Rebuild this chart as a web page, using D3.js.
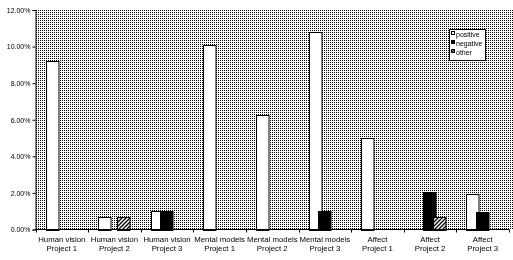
<!DOCTYPE html>
<html>
<head>
<meta charset="utf-8">
<script src="https://cdn.jsdelivr.net/npm/d3@7"></script>
<style>
  html, body { margin: 0; padding: 0; background: #ffffff; }
  svg { display: block; will-change: transform; }
  text { font-family: "Liberation Sans", Arial, sans-serif; fill: #000; }
</style>
</head>
<body>
<div id="chart"></div>
<script>
// ---- data ----
const categories = [
  ["Human vision", "Project 1"],
  ["Human vision", "Project 2"],
  ["Human vision", "Project 3"],
  ["Mental models", "Project 1"],
  ["Mental models", "Project 2"],
  ["Mental models", "Project 3"],
  ["Affect", "Project 1"],
  ["Affect", "Project 2"],
  ["Affect", "Project 3"]
];
const seriesNames = ["positive", "negative", "other"];
const positive = [9.2, 0.67, 1.0, 10.1, 6.25, 10.8, 5.0, 0, 1.92];
const negative = [0, 0, 1.0, 0, 0, 1.0, 0, 2.07, 0.96];
const other    = [0, 0.67, 0, 0, 0, 0, 0, 0.68, 0];
const yTicks = [0, 2, 4, 6, 8, 10, 12];

const W = 513, H = 260;
const pLeft = 35.5, pRight = 509, pTop = 10, pBottom = 229.5;

const svg = d3.select("#chart").append("svg")
  .attr("width", W).attr("height", H);

const defs = svg.append("defs");
// dotted plot-area background
const dots = defs.append("pattern").attr("id", "dots")
  .attr("patternUnits", "userSpaceOnUse").attr("width", 2).attr("height", 2);
dots.append("rect").attr("width", 2).attr("height", 2).attr("fill", "#fff");
dots.append("rect").attr("width", 1).attr("height", 1).attr("fill", "#000");
// diagonal hatch
const hatch = defs.append("pattern").attr("id", "hatch")
  .attr("patternUnits", "userSpaceOnUse").attr("width", 4).attr("height", 4);
hatch.append("rect").attr("width", 4).attr("height", 4).attr("fill", "#fff");
hatch.append("path").attr("d", "M-1,1 L1,-1 M0,4 L4,0 M3,5 L5,3")
  .attr("stroke", "#000").attr("stroke-width", 1.3);

const fills = { positive: "#ffffff", negative: "#000000", other: "url(#hatch)" };
const values = { positive, negative, other };

const x = d3.scaleBand().domain(d3.range(categories.length))
  .range([pLeft, pRight]).padding(0);
const y = d3.scaleLinear().domain([0, 12]).range([pBottom, pTop]);

// plot background
svg.append("rect").attr("x", 36).attr("y", pTop).attr("width", W - 36).attr("height", pBottom - pTop)
  .attr("fill", "url(#dots)");

// bars
const barW = 13.5, step = 9.5;
const groupW = step * (seriesNames.length - 1) + barW;
seriesNames.forEach((s, si) => {
  svg.append("g").selectAll("rect")
    .data(values[s].map((v, i) => ({ v, i })).filter(d => d.v > 0))
    .join("rect")
    .attr("x", d => Math.round(x(d.i) + x.bandwidth() / 2 - groupW / 2 + si * step) + 0.5)
    .attr("y", d => Math.round(y(d.v)) + 0.5)
    .attr("width", barW - 1)
    .attr("height", d => Math.round(pBottom) - Math.round(y(d.v)))
    .attr("fill", fills[s])
    .attr("stroke", "#000").attr("stroke-width", 1);
});

// y axis
const yAxis = d3.axisLeft(y).tickValues(yTicks)
  .tickFormat(d => d.toFixed(2) + "%").tickSize(3).tickPadding(2);
const ya = svg.append("g").attr("transform", `translate(${pLeft},0)`).call(yAxis);
ya.selectAll("text").style("font-size", "7px").style("font-family", '"Liberation Sans", Arial, sans-serif');
ya.select(".domain").attr("stroke", "#000");
ya.selectAll(".tick line").attr("stroke", "#000");

// x axis line and boundary ticks
const xa = svg.append("g");
xa.append("line").attr("x1", pLeft).attr("x2", pRight).attr("y1", pBottom).attr("y2", pBottom)
  .attr("stroke", "#000");
const bounds = d3.range(categories.length + 1).map(i => i < categories.length ? x(i) : pRight);
xa.selectAll("line.t").data(bounds).join("line").attr("class", "t")
  .attr("x1", d => Math.round(d) + 0.5).attr("x2", d => Math.round(d) + 0.5)
  .attr("y1", pBottom).attr("y2", pBottom + 3).attr("stroke", "#000");

// category labels
const lbl = svg.append("g").selectAll("text").data(categories).join("text")
  .attr("text-anchor", "middle").style("font-size", "7.8px");
lbl.append("tspan").attr("x", (d, i) => x(i) + x.bandwidth() / 2).attr("y", 242).text(d => d[0]);
lbl.append("tspan").attr("x", (d, i) => x(i) + x.bandwidth() / 2).attr("y", 251).text(d => d[1]);

// legend
const lg = svg.append("g");
lg.append("rect").attr("x", 449.5).attr("y", 29.5).attr("width", 36).attr("height", 31)
  .attr("fill", "#fff").attr("stroke", "#000");
seriesNames.forEach((s, i) => {
  const cy = 34 + i * 9;
  lg.append("rect").attr("x", 451.5).attr("y", cy - 2.5).attr("width", 3).attr("height", 3)
    .attr("fill", fills[s]).attr("stroke", "#000");
  lg.append("text").attr("x", 456).attr("y", cy + 2.5).style("font-size", "7px").text(s);
});
</script>
</body>
</html>
